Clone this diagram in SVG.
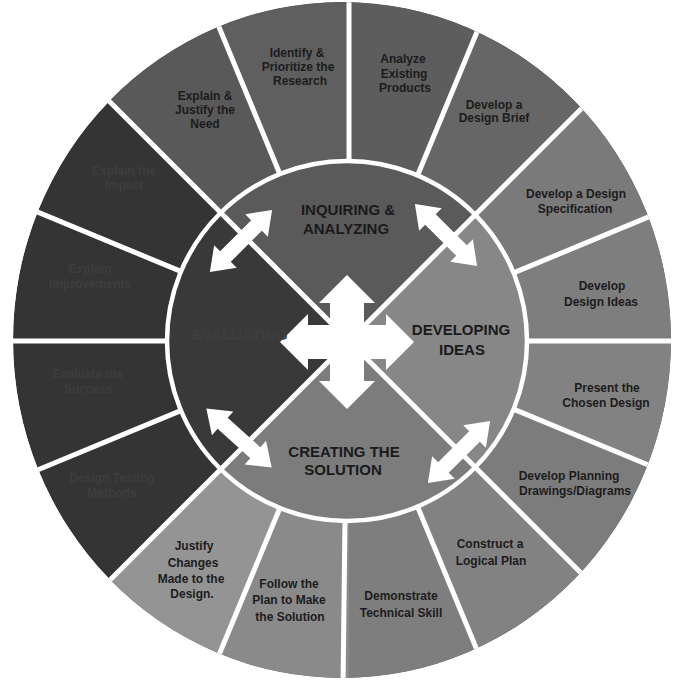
<svg xmlns="http://www.w3.org/2000/svg" width="673" height="681" viewBox="0 0 673 681">
<style>
.lbl{font-family:"Liberation Sans",Arial,sans-serif;font-weight:bold;font-size:12px;fill:#1c1c1c;text-anchor:middle}
.ttl{font-family:"Liberation Sans",Arial,sans-serif;font-weight:bold;font-size:15px;fill:#1a1a1a;text-anchor:middle}
.faint{fill:#3e3e3e}
.div{stroke:#ffffff;stroke-width:5;fill:none}
.arrow{fill:#ffffff}
</style>
<defs>
<clipPath id="outerClip"><ellipse cx="342" cy="340" rx="329" ry="338"/></clipPath>
<clipPath id="innerClip"><circle cx="347" cy="341" r="180"/></clipPath>
<polygon id="dbl" points="-44,0 -22,-16 -22,-7.5 22,-7.5 22,-16 44,0 22,16 22,7.5 -22,7.5 -22,16"/>
</defs>
<rect width="673" height="681" fill="#ffffff"/>
<g clip-path="url(#outerClip)">
<g id="ring">
<ellipse cx="342" cy="340" rx="329" ry="338" fill="#343434"/>
<g id="seg-explain"><polygon points="349,341 119.4,-213.3 -75.3,-83.3" fill="#595959"/></g>
<g id="seg-identify"><polygon points="349,341 349,-259 119.4,-213.3" fill="#5f5f5f"/></g>
<g id="seg-analyze"><polygon points="349,341 578.6,-213.3 349,-259" fill="#5d5d5d"/></g>
<g id="seg-brief"><polygon points="349,341 773.3,-83.3 578.6,-213.3" fill="#666666"/></g>
<g id="seg-spec"><polygon points="349,341 903.3,111.4 773.3,-83.3" fill="#7a7a7a"/></g>
<g id="seg-ideas"><polygon points="349,341 949,341 903.3,111.4" fill="#7e7e7e"/></g>
<g id="seg-present"><polygon points="349,341 903.3,570.6 949,341" fill="#828282"/></g>
<g id="seg-planning"><polygon points="349,341 773.3,765.3 903.3,570.6" fill="#7c7c7c"/></g>
<g id="seg-construct"><polygon points="349,341 578.6,895.3 773.3,765.3" fill="#828282"/></g>
<g id="seg-demonstrate"><polygon points="349,341 349,941 578.6,895.3" fill="#7e7e7e"/></g>
<g id="seg-follow"><polygon points="349,341 119.4,895.3 349,941" fill="#8a8a8a"/></g>
<g id="seg-justify"><polygon points="349,341 -75.3,765.3 119.4,895.3" fill="#949494"/></g>
</g>
<g id="dividers">
<line class="div" x1="513.5" y1="272.9" x2="903.3" y2="111.4"/>
<line class="div" x1="527" y1="341" x2="949" y2="341"/>
<line class="div" x1="513.5" y1="409.1" x2="903.3" y2="570.6"/>
<line class="div" x1="417.1" y1="176.5" x2="578.6" y2="-213.3"/>
<line class="div" x1="349" y1="163" x2="349" y2="-259"/>
<line class="div" x1="280.9" y1="176.5" x2="119.4" y2="-213.3"/>
<line class="div" x1="184.5" y1="272.9" x2="-205.3" y2="111.4"/>
<line class="div" x1="171" y1="341" x2="-251" y2="341"/>
<line class="div" x1="184.5" y1="409.1" x2="-205.3" y2="570.6"/>
<line class="div" x1="280.9" y1="505.5" x2="119.4" y2="895.3"/>
<line class="div" x1="345" y1="519" x2="340" y2="941"/>
<line class="div" x1="417.1" y1="505.5" x2="578.6" y2="895.3"/>
</g>
<g id="core" clip-path="url(#innerClip)">
<g id="phase-inquiring"><polygon points="349,341 773,-83 -75,-83" fill="#5a5a5a"/></g>
<g id="phase-developing"><polygon points="349,341 773,-83 773,765" fill="#878787"/></g>
<g id="phase-creating"><polygon points="349,341 773,765 -75,765" fill="#7c7c7c"/></g>
<g id="phase-evaluating"><polygon points="349,341 -75,765 -75,-83" fill="#393939"/></g>
</g>
<circle cx="347" cy="341" r="180" fill="none" stroke="#ffffff" stroke-width="4.5"/>
<g id="diagonals">
<line class="div" x1="349" y1="341" x2="773.3" y2="-83.3"/>
<line class="div" x1="349" y1="341" x2="-75.3" y2="-83.3"/>
<line class="div" x1="349" y1="341" x2="-75.3" y2="765.3"/>
<line class="div" x1="349" y1="341" x2="773.3" y2="765.3"/>
</g>
</g>
<g id="connectors">
<polygon class="arrow" points="347,275 375,303 364,303 364,325 386,325 386,314 414,342 386,370 386,359 364,359 364,381 375,381 347,409 319,381 330,381 330,359 308,359 308,370 280,342 308,314 308,325 330,325 330,303 319,303"/>
<use href="#dbl" class="arrow" transform="translate(241,241) rotate(-45)"/>
<use href="#dbl" class="arrow" transform="translate(446,235) rotate(45)"/>
<use href="#dbl" class="arrow" transform="translate(239,438) rotate(42)"/>
<use href="#dbl" class="arrow" transform="translate(459,452) rotate(-45)"/>
</g>
<g id="labels-inner">
<text class="ttl" x="348" y="215">INQUIRING &amp;</text>
<text class="ttl" x="346" y="234">ANALYZING</text>
<text class="ttl" x="461" y="335">DEVELOPING</text>
<text class="ttl" x="462" y="355">IDEAS</text>
<text class="ttl" x="344" y="457">CREATING THE</text>
<text class="ttl" x="343" y="475">SOLUTION</text>
<text class="ttl faint" x="240" y="340">EVALUATING</text>
</g>
<g id="labels-outer">
<text class="lbl"><tspan x="205" y="100">Explain &amp;</tspan><tspan x="205" y="114">Justify the</tspan><tspan x="205" y="128">Need</tspan></text>
<text class="lbl"><tspan x="297" y="57">Identify &amp;</tspan><tspan x="298" y="71">Prioritize the</tspan><tspan x="300" y="85">Research</tspan></text>
<text class="lbl"><tspan x="403" y="63">Analyze</tspan><tspan x="404" y="78">Existing</tspan><tspan x="405" y="92">Products</tspan></text>
<text class="lbl"><tspan x="494" y="109">Develop a</tspan><tspan x="494" y="122">Design Brief</tspan></text>
<text class="lbl"><tspan x="576" y="198">Develop a Design</tspan><tspan x="575" y="213">Specification</tspan></text>
<text class="lbl"><tspan x="602" y="290">Develop</tspan><tspan x="601" y="306">Design Ideas</tspan></text>
<text class="lbl"><tspan x="607" y="392">Present the</tspan><tspan x="606" y="407">Chosen Design</tspan></text>
<text class="lbl"><tspan x="569" y="480">Develop Planning</tspan><tspan x="575" y="495">Drawings/Diagrams</tspan></text>
<text class="lbl"><tspan x="490" y="548">Construct a</tspan><tspan x="491" y="565">Logical Plan</tspan></text>
<text class="lbl"><tspan x="401" y="600">Demonstrate</tspan><tspan x="401" y="617">Technical Skill</tspan></text>
<text class="lbl"><tspan x="289" y="588">Follow the</tspan><tspan x="289" y="604">Plan to Make</tspan><tspan x="290" y="621">the Solution</tspan></text>
<text class="lbl"><tspan x="194" y="550">Justify</tspan><tspan x="193" y="567">Changes</tspan><tspan x="191" y="583">Made to the</tspan><tspan x="192" y="598">Design.</tspan></text>
<text class="lbl faint"><tspan x="124" y="175">Explain the</tspan><tspan x="124" y="189">Impact</tspan></text>
<text class="lbl faint"><tspan x="90" y="273">Explain</tspan><tspan x="90" y="288">Improvements</tspan></text>
<text class="lbl faint"><tspan x="88" y="378">Evaluate the</tspan><tspan x="88" y="393">Success</tspan></text>
<text class="lbl faint"><tspan x="112" y="482">Design Testing</tspan><tspan x="112" y="497">Methods</tspan></text>
</g>
</svg>
